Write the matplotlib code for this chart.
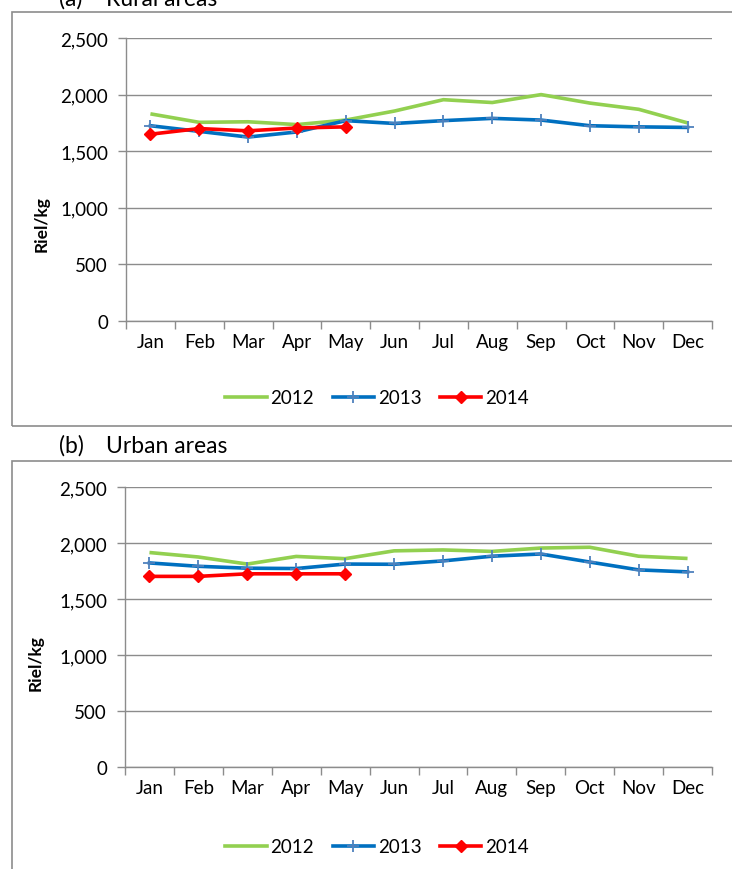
import matplotlib
matplotlib.use("Agg")
import matplotlib.pyplot as plt
from matplotlib.patches import Rectangle
from matplotlib.lines import Line2D
from matplotlib.ticker import FuncFormatter, FixedLocator

plt.rcParams["font.family"] = ["Lato", "DejaVu Sans"]

months = ["Jan", "Feb", "Mar", "Apr", "May", "Jun",
          "Jul", "Aug", "Sep", "Oct", "Nov", "Dec"]
years = ["2012", "2013", "2014"]

# Rural areas (Riel/kg)
rural_2012 = [1830, 1755, 1760, 1735, 1775, 1855, 1955, 1930, 2000, 1925, 1870, 1750]
rural_2013 = [1725, 1675, 1625, 1670, 1770, 1745, 1770, 1790, 1775, 1725, 1715, 1710]
rural_2014 = [1650, 1700, 1680, 1705, 1715]

# Urban areas (Riel/kg)
urban_2012 = [1915, 1875, 1812, 1880, 1860, 1930, 1938, 1925, 1955, 1962, 1882, 1862]
urban_2013 = [1822, 1792, 1775, 1772, 1812, 1810, 1840, 1882, 1902, 1830, 1760, 1742]
urban_2014 = [1702, 1702, 1725, 1725, 1725]

GREEN = "#92D050"
BLUE = "#0070C0"
RED = "#FF0000"
GRID = "#8C8C8C"
FS = 13.5

W, H = 732, 870
fig = plt.figure(figsize=(W / 100, H / 100), dpi=100)


def fx(px):
    return px / W


def fy(py):
    return 1 - py / H


def panel(rect, s2012, s2013, s2014, label_y, legend_y):
    ax = fig.add_axes(rect)
    x = list(range(len(months)))
    ax.plot(x[:len(s2012)], s2012, color=GREEN, lw=2.6, solid_capstyle="butt")
    ax.plot(x[:len(s2013)], s2013, color=BLUE, lw=2.6, marker="+", ms=8,
            mec="#4F81BD", mew=1.3)
    ax.plot(x[:len(s2014)], s2014, color=RED, lw=2.6, marker="D", ms=6,
            mec=RED, mfc=RED)

    ax.set_xlim(-0.5, len(months) - 0.5)
    ax.set_ylim(0, 2500)
    ax.set_yticks(range(0, 2501, 500))
    ax.yaxis.set_major_formatter(FuncFormatter(lambda v, p: "{:,.0f}".format(v)))
    ax.xaxis.set_major_locator(FixedLocator([i - 0.5 for i in range(len(months) + 1)]))
    ax.xaxis.set_minor_locator(FixedLocator(x))
    ax.set_xticklabels([], minor=False)
    ax.set_xticklabels(months, minor=True)
    ax.tick_params(axis="x", which="major", direction="out", length=6,
                   color=GRID, width=1)
    ax.tick_params(axis="x", which="minor", length=0, pad=9, labelsize=FS)
    ax.tick_params(axis="y", direction="out", length=6, color=GRID, width=1,
                   pad=7, labelsize=FS)
    ax.grid(axis="y", color=GRID, lw=1)
    ax.set_axisbelow(True)
    for s in ["top", "right"]:
        ax.spines[s].set_visible(False)
    for s in ["left", "bottom"]:
        ax.spines[s].set_color(GRID)
        ax.spines[s].set_linewidth(1)

    fig.text(label_y[0], label_y[1], "Riel/kg", rotation=90, fontsize=12.5,
             fontweight="bold", ha="center", va="center")

    handles = [
        Line2D([], [], color=GREEN, lw=2.6),
        Line2D([], [], color=BLUE, lw=2.6, marker="+", ms=8, mec="#4F81BD", mew=1.3),
        Line2D([], [], color=RED, lw=2.6, marker="D", ms=6, mec=RED, mfc=RED),
    ]
    fig.legend(handles, years, loc="center", bbox_to_anchor=(fx(377), legend_y),
               ncol=3, frameon=False, fontsize=FS, handlelength=2.2,
               handletextpad=0.2, columnspacing=1.0)
    return ax


# outer frames
fig.patches.append(Rectangle((fx(12), fy(427)), 1.0, (427 - 13) / H,
                             transform=fig.transFigure, fill=False,
                             edgecolor=GRID, lw=1.2))
fig.patches.append(Rectangle((fx(12), -0.05), 1.0, fy(462) + 0.05,
                             transform=fig.transFigure, fill=False,
                             edgecolor=GRID, lw=1.2))

# titles
fig.text(fx(59), fy(6), "(a)", fontsize=16.5, va="baseline")
fig.text(fx(106), fy(6), "Rural areas", fontsize=16.5, va="baseline")
fig.text(fx(59), fy(453), "(b)", fontsize=16.5, va="baseline")
fig.text(fx(106), fy(453), "Urban areas", fontsize=16.5, va="baseline")

panel([fx(126), fy(322), fx(712) - fx(126), fy(39) - fy(322)],
      rural_2012, rural_2013, rural_2014, (fx(42), fy(224)), fy(399))
panel([fx(125), fy(768), fx(712) - fx(125), fy(488) - fy(768)],
      urban_2012, urban_2013, urban_2014, (fx(36), fy(663)), fy(848))

fig.savefig("out.png", dpi=100)
plt.close(fig)
